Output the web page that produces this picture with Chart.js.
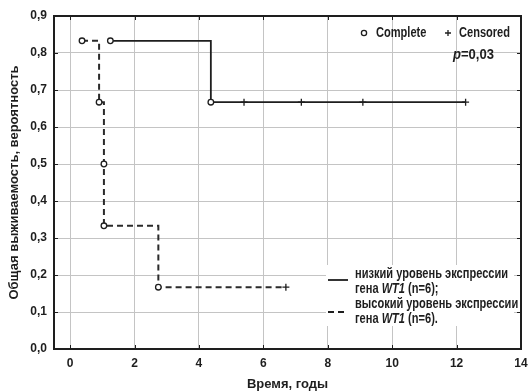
<!DOCTYPE html>
<html><head><meta charset="utf-8">
<script src="https://cdn.jsdelivr.net/npm/chart.js@4/dist/chart.umd.min.js"></script>
<style>html,body{margin:0;padding:0;background:#fff}#wrap{width:528px;height:392px}</style>
</head><body><div id="wrap"><canvas id="c" width="528" height="392"></canvas></div>
<script>
// Low WT1 expression (solid)
const lowTime = [1.25, 4.37, 5.4, 7.18, 9.09, 12.28];
const lowSurv = [0.833, 0.667, 0.667, 0.667, 0.667, 0.667];
const lowCensored = [0, 0, 1, 1, 1, 1];
// High WT1 expression (dashed)
const highTime = [0.37, 0.9, 1.05, 1.05, 2.74, 6.7];
const highSurv = [0.833, 0.667, 0.5, 0.333, 0.167, 0.167];
const highCensored = [0, 0, 0, 0, 0, 1];
const xTicks = [0, 2, 4, 6, 8, 10, 12, 14];
const yTicks = [0, 0.1, 0.2, 0.3, 0.4, 0.5, 0.6, 0.7, 0.8, 0.9];
const xTitle = 'Время, годы';
const yTitle = 'Общая выживаемость, вероятность';
const legendLines = ['низкий уровень экспрессии', 'гена ', 'высокий уровень экспрессии'];

const INK = '#1e1e1e';
const SANS = "'Liberation Sans',Arial,sans-serif";

function pts(t, s) { return t.map((x, i) => ({x: x, y: s[i]})); }
function styles(c) { return c.map(v => v ? 'cross' : 'circle'); }

function narrowText(ctx, text, x, y, italic, size, squeeze) {
  size = size || 14; squeeze = squeeze || 0.79;
  ctx.font = (italic ? 'italic ' : '') + 'bold ' + size + 'px ' + SANS;
  ctx.save();
  ctx.translate(x, y);
  ctx.scale(squeeze, 1);
  ctx.fillText(text, 0, 0);
  ctx.restore();
  return ctx.measureText(text).width * squeeze;
}

const overlay = {
  id: 'overlay',
  afterDraw(chart) {
    const ctx = chart.ctx, a = chart.chartArea;
    const xs = chart.scales.x, ys = chart.scales.y;
    ctx.save();
    // legend background
    ctx.fillStyle = '#fff';
    ctx.fillRect(326, 265, 188, 61);
    // frame
    ctx.strokeStyle = INK; ctx.lineWidth = 2; ctx.setLineDash([]);
    ctx.strokeRect(a.left, a.top, a.right - a.left, a.bottom - a.top);
    // inward ticks on all sides
    ctx.lineWidth = 1;
    xTicks.forEach(v => { const px = Math.round(xs.getPixelForValue(v)) + 0.5;
      ctx.beginPath(); ctx.moveTo(px, a.top); ctx.lineTo(px, a.top + 4);
      ctx.moveTo(px, a.bottom); ctx.lineTo(px, a.bottom - 4); ctx.stroke(); });
    yTicks.forEach(v => { const py = Math.round(ys.getPixelForValue(v)) + 0.5;
      ctx.beginPath(); ctx.moveTo(a.right, py); ctx.lineTo(a.right - 4, py);
      ctx.moveTo(a.left, py); ctx.lineTo(a.left + 4, py); ctx.stroke(); });
    // top legend
    ctx.textBaseline = 'middle'; ctx.textAlign = 'left';
    ctx.lineWidth = 1.3;
    ctx.beginPath(); ctx.arc(364, 33, 2.6, 0, Math.PI * 2);
    ctx.fillStyle = '#fff'; ctx.fill(); ctx.stroke();
    ctx.fillStyle = INK;
    ctx.beginPath(); ctx.moveTo(445, 33); ctx.lineTo(451, 33); ctx.moveTo(448, 30); ctx.lineTo(448, 36); ctx.stroke();
    narrowText(ctx, 'Complete', 376, 33);
    narrowText(ctx, 'Censored', 459, 33);
    let x = 453;
    x += narrowText(ctx, 'p', x, 55, true, 15, 0.87);
    narrowText(ctx, '=0,03', x, 55, false, 15, 0.87);
    // bottom legend
    ctx.lineWidth = 1.8;
    ctx.beginPath(); ctx.moveTo(328, 280); ctx.lineTo(348, 280); ctx.stroke();
    ctx.setLineDash([6, 4]);
    ctx.beginPath(); ctx.moveTo(328, 312); ctx.lineTo(348, 312); ctx.stroke();
    ctx.setLineDash([]);
    const x0 = 355;
    const rows = [274, 289, 304, 319];
    narrowText(ctx, legendLines[0], x0, rows[0]);
    narrowText(ctx, legendLines[2], x0, rows[2]);
    [[rows[1], ' (n=6);'], [rows[3], ' (n=6).']].forEach(([y, tail]) => {
      let xx = x0;
      xx += narrowText(ctx, legendLines[1], xx, y);
      xx += narrowText(ctx, 'WT1', xx, y, true);
      narrowText(ctx, tail, xx, y);
    });
    ctx.restore();
  }
};

const gridOpts = { color: '#c4c4c4', borderDash: [1, 2], lineWidth: 1, drawTicks: false };

new Chart(document.getElementById('c'), {
  type: 'scatter',
  data: {
    datasets: [
      { label: 'low', data: pts(lowTime, lowSurv), showLine: true, stepped: 'before',
        borderColor: INK, borderWidth: 1.8, pointStyle: styles(lowCensored),
        pointRadius: lowCensored.map(c => c ? 3.5 : 2.8), pointBackgroundColor: '#fff',
        pointBorderColor: INK, pointBorderWidth: 1.3 },
      { label: 'high', data: pts(highTime, highSurv), showLine: true, stepped: 'before',
        borderColor: '#2a2a2a', borderWidth: 2, borderDash: [6, 4], pointStyle: styles(highCensored),
        pointRadius: highCensored.map(c => c ? 3.5 : 2.8), pointBackgroundColor: '#fff',
        pointBorderColor: INK, pointBorderWidth: 1.3 }
    ]
  },
  options: {
    responsive: false, animation: false, devicePixelRatio: 1,
    layout: { padding: { top: 16, right: 7, left: 0, bottom: 0 } },
    plugins: { legend: { display: false }, tooltip: { enabled: false } },
    scales: {
      x: {
        type: 'linear', min: -0.5, max: 14,
        afterBuildTicks: s => { s.ticks = xTicks.map(v => ({value: v})); },
        afterFit: s => { s.height = 43; s.paddingRight = 0; s.paddingLeft = 0; },
        ticks: { color: INK, font: { family: SANS, size: 12, weight: 'bold' }, padding: 7, maxRotation: 0,
                 callback: v => String(v) },
        grid: gridOpts,
        border: { display: false },
        title: { display: true, text: xTitle, color: INK, font: { family: SANS, size: 13, weight: 'bold' },
                 padding: { top: 0, bottom: 0 } }
      },
      y: {
        type: 'linear', min: 0, max: 0.9,
        afterBuildTicks: s => { s.ticks = yTicks.map(v => ({value: v})); },
        afterFit: s => { s.width = 54; s.paddingTop = 0; s.paddingBottom = 0; },
        ticks: { color: INK, font: { family: SANS, size: 12, weight: 'bold' }, padding: 7,
                 callback: v => v.toFixed(1).replace('.', ',') },
        grid: gridOpts,
        border: { display: false },
        title: { display: true, text: yTitle, color: INK, font: { family: SANS, size: 13, weight: 'bold' },
                 padding: { top: 7, bottom: 0 } }
      }
    }
  },
  plugins: [overlay]
});
</script></body></html>
